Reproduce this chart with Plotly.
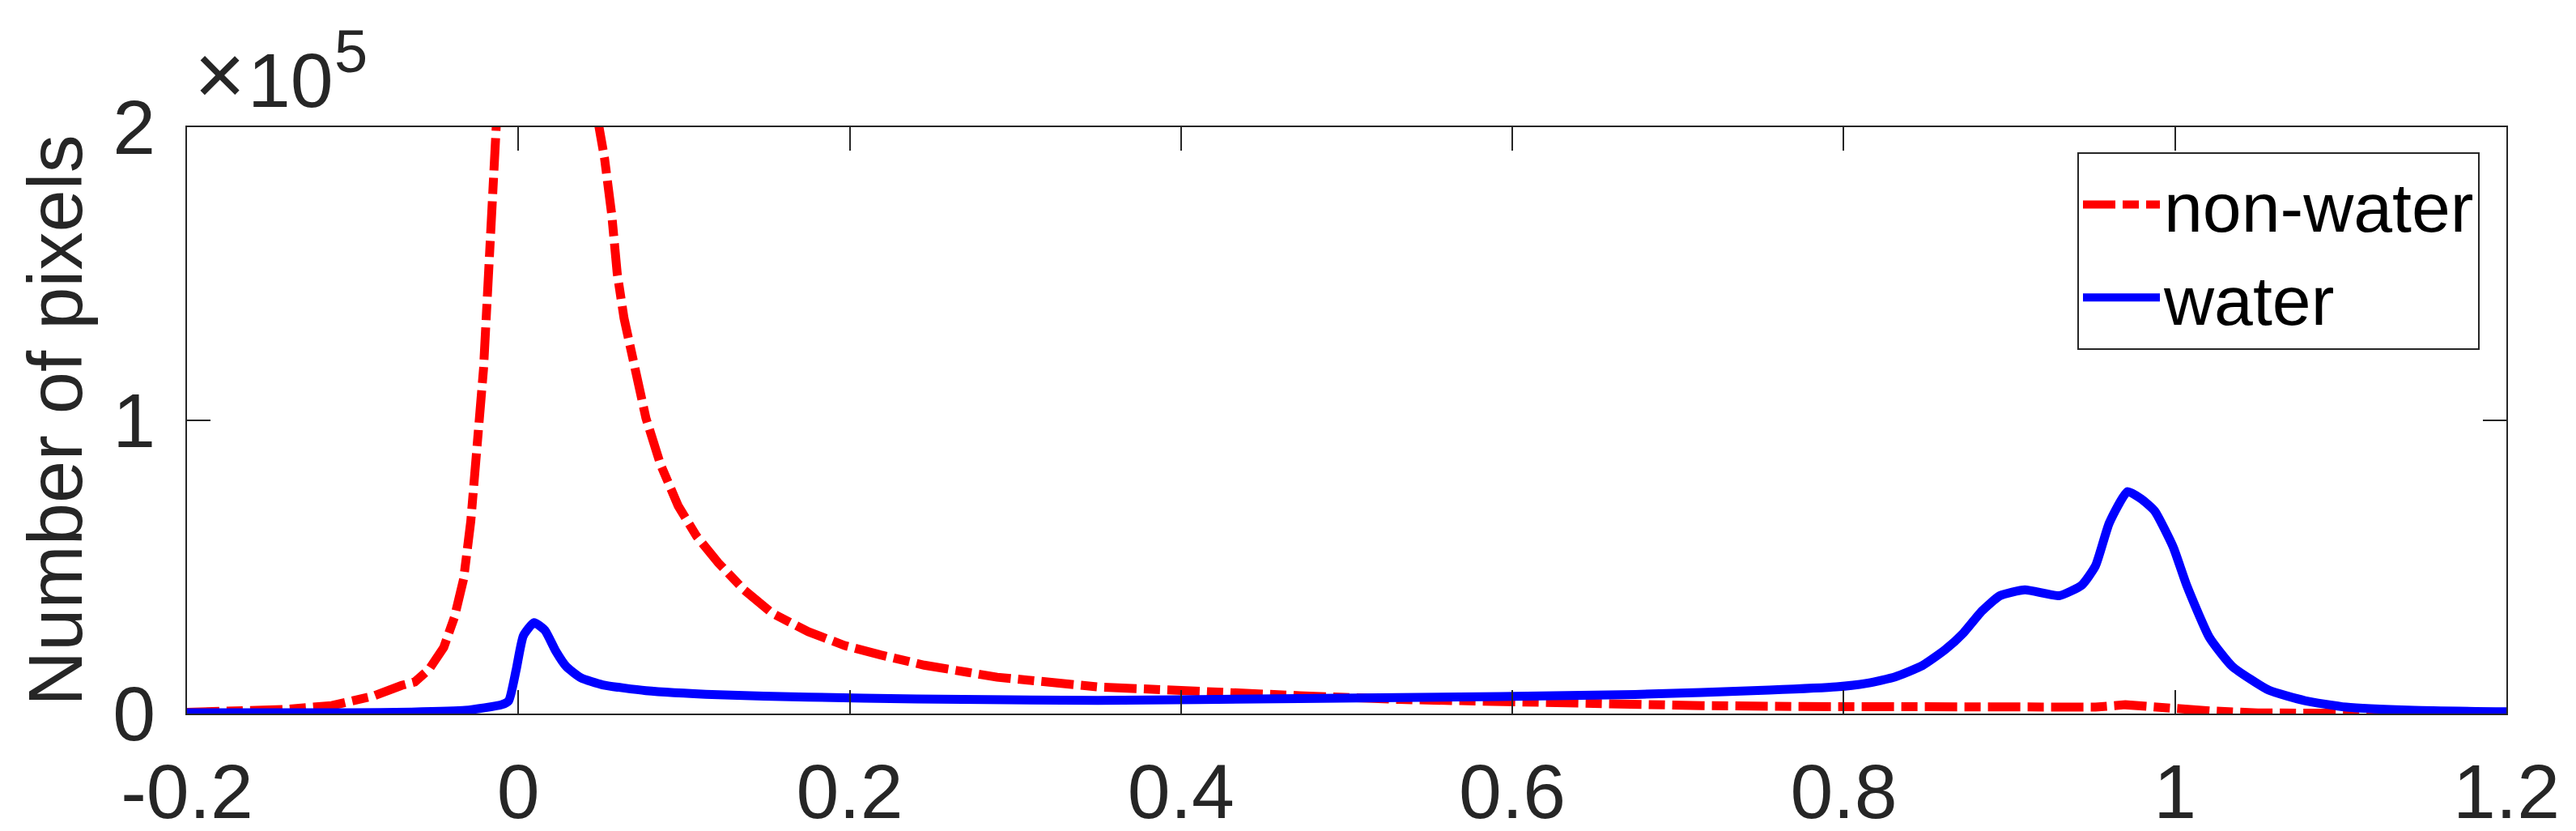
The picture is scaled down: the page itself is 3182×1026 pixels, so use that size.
import plotly.graph_objects as go

# ---- data ----
nonwater_x = [-0.2, -0.183, -0.141, -0.1126, -0.0874, -0.0705, -0.0625, -0.054, -0.045, -0.0385,
              -0.033, -0.0287, -0.0243, -0.021, -0.018, -0.0156, -0.0134, -0.008, 0.0, 0.01,
              0.02, 0.03, 0.04, 0.0487, 0.052, 0.0564, 0.0597, 0.0638, 0.0705, 0.077,
              0.0858, 0.0965, 0.1076, 0.1207, 0.136, 0.153, 0.175, 0.197, 0.2187, 0.2325,
              0.245, 0.271, 0.289, 0.35, 0.4107, 0.4715, 0.532, 0.593, 0.654, 0.7145,
              0.775, 0.836, 0.897, 0.952, 0.97, 0.9932, 1.021, 1.05, 1.1, 1.15, 1.2]
nonwater_k = [0.4, 0.6, 1.4, 2.7, 6.0, 9.6, 10.8, 15.0, 22.6, 33.0,
              46.0, 65.6, 91.7, 117.7, 150.0, 176.5, 200.0, 260.0, 380.0, 520.0,
              560.0, 450.0, 300.0, 200.0, 189.5, 170.0, 150.0, 134.8, 117.7, 100.8,
              85.0, 70.8, 60.5, 51.4, 42.3, 34.3, 27.9, 23.2, 20.0, 18.0,
              16.5, 14.1, 12.4, 9.1, 7.3, 6.1, 4.8, 3.9, 3.1, 2.7,
              2.4, 2.1, 1.8, 2.2, 3.0, 1.8, 0.9, 0.2, 0.0, 0.0, 0.0]

water_x = [-0.2, -0.1, -0.065, -0.032, -0.0102, -0.0058, -0.0014, 0.003, 0.0095, 0.016,
           0.0226, 0.029, 0.0378, 0.0509, 0.077, 0.1207, 0.175, 0.2406, 0.35, 0.4715,
           0.593, 0.674, 0.755, 0.7956, 0.8147, 0.831, 0.8476, 0.8613, 0.8723, 0.8833,
           0.8943, 0.9094, 0.93, 0.9437, 0.952, 0.9603, 0.9713, 0.9796, 0.9877, 0.9988,
           1.007, 1.0207, 1.0345, 1.0565, 1.0784, 1.1032, 1.1444, 1.2]
water_k = [0.3, 0.3, 0.5, 1.1, 3.0, 4.4, 14.7, 26.5, 31.0, 28.4,
           21.3, 16.0, 12.2, 9.8, 7.8, 6.4, 5.6, 5.0, 4.5, 5.1,
           5.8, 6.5, 8.0, 9.1, 10.4, 12.5, 16.4, 21.8, 27.5, 34.9,
           40.2, 42.2, 40.2, 43.8, 50.4, 65.0, 75.7, 73.2, 69.1, 56.9,
           43.8, 26.0, 16.1, 8.0, 4.4, 2.2, 1.1, 0.6]

x_ticks = [-0.2, 0, 0.2, 0.4, 0.6, 0.8, 1.0, 1.2]
x_ticktext = ["-0.2", "0", "0.2", "0.4", "0.6", "0.8", "1", "1.2"]
y_ticks = [0, 100000, 200000]
y_ticktext = ["0", "1", "2"]
y_exponent = "5"

nonwater_y = [v * 1000 for v in nonwater_k]
water_y = [v * 1000 for v in water_k]

FONT = "Liberation Sans, Arial, Helvetica, sans-serif"
AX = "#262626"

fig = go.Figure()
fig.add_trace(go.Scatter(x=nonwater_x, y=nonwater_y, mode="lines", name="non-water",
                         line=dict(color="#ff0000", width=11, dash="40px,9px,20px,9px")))
fig.add_trace(go.Scatter(x=water_x, y=water_y, mode="lines", name="water",
                         line=dict(color="#0000ff", width=11, shape="spline", smoothing=0.5)))

L, R, T, B = 223, 94, 149, 153
PW, PH = 3182 - L - R, 1026 - T - B


def px(xp):
    return (xp - L) / PW


def py(yp):
    return (1026 - B - yp) / PH


fig.update_layout(
    template="none",
    width=3182, height=1026,
    margin=dict(l=L, r=R, t=T, b=B, pad=0, autoexpand=False),
    paper_bgcolor="white", plot_bgcolor="white",
    font=dict(family=FONT, size=95, color=AX),
    showlegend=True,
    legend=dict(x=px(3055), xanchor="right", y=py(180), yanchor="top",
                bordercolor=AX, borderwidth=2, bgcolor="white",
                font=dict(family=FONT, size=86, color="black"),
                itemwidth=95, tracegroupgap=0),
)
fig.update_xaxes(range=[-0.2, 1.2], tickvals=x_ticks, ticktext=x_ticktext, automargin=False,
                 ticks="inside", ticklen=29, tickwidth=2, tickcolor=AX,
                 showline=True, linecolor=AX, linewidth=2, mirror="ticks",
                 showgrid=False, zeroline=False, tickfont=dict(size=95, color=AX),
                 ticklabelstandoff=13)
fig.update_yaxes(range=[0, 200000], tickvals=y_ticks, ticktext=y_ticktext, automargin=False,
                 ticks="inside", ticklen=29, tickwidth=2, tickcolor=AX,
                 showline=True, linecolor=AX, linewidth=2, mirror="ticks",
                 showgrid=False, zeroline=False, tickfont=dict(size=95, color=AX),
                 ticklabelstandoff=18,
                 title=dict(text="Number of pixels", font=dict(size=94, color=AX), standoff=6))

fig.add_annotation(xref="paper", yref="paper", x=px(230), y=py(146),
                   xanchor="left", yanchor="bottom", showarrow=False,
                   text="×", font=dict(family=FONT, size=108, color=AX))
fig.add_annotation(xref="paper", yref="paper", x=px(296), y=py(146),
                   xanchor="left", yanchor="bottom", showarrow=False,
                   text="10", font=dict(family=FONT, size=95, color=AX))
fig.add_annotation(xref="paper", yref="paper", x=px(403), y=py(99),
                   xanchor="left", yanchor="bottom", showarrow=False,
                   text=y_exponent, font=dict(family=FONT, size=74, color=AX))

fig.write_html("out.html")
